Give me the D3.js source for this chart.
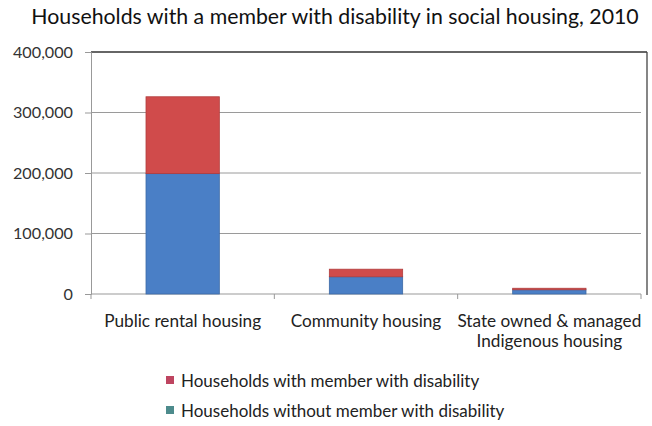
<!DOCTYPE html>
<html>
<head>
<meta charset="utf-8">
<script src="https://cdn.jsdelivr.net/npm/d3@7"></script>
<style>
  body { margin: 0; background: #fff; }
  text { font-family: Lato, "Open Sans", sans-serif; }
</style>
</head>
<body>
<svg id="chart" width="652" height="426"></svg>
<script>
// Social housing categories and stacked household counts
const categories = ["Public rental housing", "Community housing", "State owned & managed\nIndigenous housing"];
const withoutDisability = [199000, 28500, 7000];
const withDisability = [127000, 12500, 2500];
const yTicks = [0, 100000, 200000, 300000, 400000];
const seriesNames = ["Households with member with disability", "Households without member with disability"];

const svg = d3.select("#chart");
const margin = { left: 91, right: 641, top: 52, bottom: 294 };

const x = d3.scaleBand().domain(categories).range([margin.left, margin.right]).paddingInner(0.6).paddingOuter(0.3);
const y = d3.scaleLinear().domain([0, 400000]).range([margin.bottom, margin.top]);

// Title
svg.append("text")
  .attr("x", 335).attr("y", 24)
  .attr("text-anchor", "middle")
  .attr("font-size", 21.3)
  .attr("fill", "#111")
  .text("Households with a member with disability in social housing, 2010");

// Gridlines
svg.append("g").selectAll("line").data(yTicks.slice(1, 4)).join("line")
  .attr("x1", margin.left).attr("x2", margin.right)
  .attr("y1", d => y(d)).attr("y2", d => y(d))
  .attr("stroke", "#9a9a9a").attr("stroke-width", 1);

// Frame: top and right border
svg.append("line").attr("x1", margin.left).attr("x2", 647).attr("y1", y(400000)).attr("y2", y(400000))
  .attr("stroke", "#333").attr("stroke-width", 1.3);
svg.append("line").attr("x1", 647).attr("x2", 647).attr("y1", y(400000)).attr("y2", margin.bottom + 1)
  .attr("stroke", "#444").attr("stroke-width", 1.3);

// Y axis
const yAxis = d3.axisLeft(y).tickValues(yTicks).tickSize(6).tickPadding(12)
  .tickFormat(d3.format(","));
const gy = svg.append("g").attr("transform", `translate(${margin.left},0)`).call(yAxis);
gy.select(".domain").attr("stroke", "#999");
gy.selectAll(".tick line").attr("stroke", "#999");
gy.selectAll(".tick text").attr("font-size", 16.2).attr("fill", "#333")
  .attr("font-family", "Lato, 'Open Sans', sans-serif");

// X axis baseline with category boundary ticks
svg.append("line").attr("x1", margin.left).attr("x2", margin.right)
  .attr("y1", margin.bottom).attr("y2", margin.bottom).attr("stroke", "#999");
const step = (margin.right - margin.left) / categories.length;
svg.append("g").selectAll("line").data(d3.range(categories.length + 1)).join("line")
  .attr("x1", i => margin.left + i * step).attr("x2", i => margin.left + i * step)
  .attr("y1", margin.bottom).attr("y2", margin.bottom + 5)
  .attr("stroke", "#999");

// Stacked bars
const rows = categories.map((c, i) => ({ cat: c, without: withoutDisability[i], with: withDisability[i] }));
const stack = d3.stack().keys(["without", "with"])(rows);
const fills = { without: "#4a7fc6", with: "#d04b4b" };
const strokes = { without: "#3c6aa6", with: "#b03c3c" };
stack.forEach(layer => {
  svg.append("g").selectAll("rect").data(layer).join("rect")
    .attr("x", d => x(d.data.cat))
    .attr("width", x.bandwidth())
    .attr("y", d => y(d[1]))
    .attr("height", d => y(d[0]) - y(d[1]))
    .attr("fill", fills[layer.key])
    .attr("stroke", strokes[layer.key])
    .attr("stroke-width", 0.8);
});

// Category labels
const cx = svg.append("g");
categories.forEach(c => {
  const lines = c.split("\n");
  const t = cx.append("text")
    .attr("x", x(c) + x.bandwidth() / 2)
    .attr("y", 327)
    .attr("text-anchor", "middle")
    .attr("font-size", 17.2)
    .attr("fill", "#222");
  lines.forEach((l, j) => t.append("tspan")
    .attr("x", x(c) + x.bandwidth() / 2)
    .attr("dy", j === 0 ? 0 : 20).text(l));
});

// Legend
const legendColors = ["#be4560", "#4d8b8c"];
seriesNames.forEach((name, i) => {
  const ly = 381 + i * 30;
  svg.append("rect").attr("x", 166).attr("y", ly - 5).attr("width", 8).attr("height", 8)
    .attr("fill", legendColors[i]);
  svg.append("text").attr("x", 181).attr("y", ly + 6)
    .attr("font-size", 17).attr("fill", "#222").text(name);
});
</script>
</body>
</html>
